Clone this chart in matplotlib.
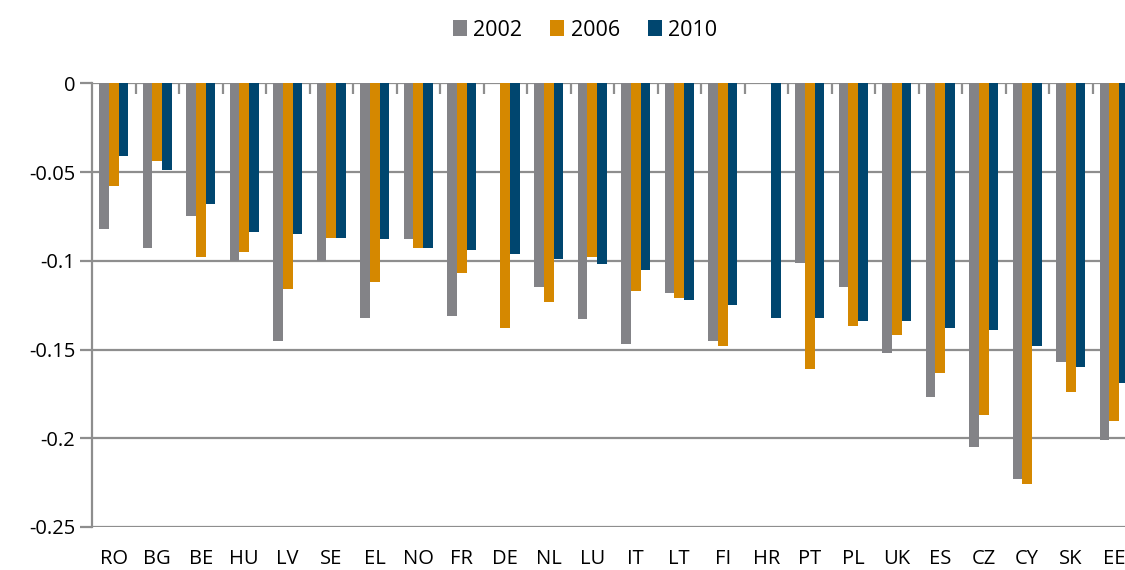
import matplotlib
matplotlib.use('Agg')
import matplotlib.pyplot as plt
import numpy as np

plt.rcParams['font.family'] = ['Open Sans', 'DejaVu Sans']

countries = ['RO', 'BG', 'BE', 'HU', 'LV', 'SE', 'EL', 'NO', 'FR', 'DE', 'NL', 'LU',
             'IT', 'LT', 'FI', 'HR', 'PT', 'PL', 'UK', 'ES', 'CZ', 'CY', 'SK', 'EE']
y2002 = [-0.082, -0.093, -0.075, -0.100, -0.145, -0.100, -0.132, -0.088, -0.131, 0.0,
         -0.115, -0.133, -0.147, -0.118, -0.145, 0.0, -0.101, -0.115, -0.152, -0.177,
         -0.205, -0.223, -0.157, -0.201]
y2006 = [-0.058, -0.044, -0.098, -0.095, -0.116, -0.087, -0.112, -0.093, -0.107, -0.138,
         -0.123, -0.098, -0.117, -0.121, -0.148, 0.0, -0.161, -0.137, -0.142, -0.163,
         -0.187, -0.226, -0.174, -0.190]
y2010 = [-0.041, -0.049, -0.068, -0.084, -0.085, -0.087, -0.088, -0.093, -0.094, -0.096,
         -0.099, -0.102, -0.105, -0.122, -0.125, -0.132, -0.132, -0.134, -0.134, -0.138,
         -0.139, -0.148, -0.160, -0.169]
series_names = ['2002', '2006', '2010']
yticks = [0, -0.05, -0.1, -0.15, -0.2, -0.25]
ytick_labels = ['0', '-0.05', '-0.1', '-0.15', '-0.2', '-0.25']

colors = ['#838387', '#D58800', '#00466F']
grid_col = '#8E8E8E'

W, H = 1125, 570
fig = plt.figure(figsize=(W / 100, H / 100), dpi=100)
# axes runs past the right edge of the figure, like the original clipped chart
ax = fig.add_axes([92 / W, (H - 527) / H, 1044 / W, (527 - 83.3) / H])

x = np.arange(len(countries))
bw = 0.222
for i, (vals, name) in enumerate(zip([y2002, y2006, y2010], series_names)):
    ax.bar(x + (i - 1) * bw, vals, width=bw, color=colors[i], label=name, zorder=2)

ax.set_xlim(-0.5, len(countries) - 0.5)
ax.set_ylim(-0.25, 0)
ax.set_yticks(yticks)
ax.set_yticklabels(ytick_labels)
ax.yaxis.grid(True, color=grid_col, lw=1.6)
ax.set_axisbelow(True)

ax.set_xticks(x)
ax.set_xticklabels(countries)
ax.set_xticks(np.arange(0.5, len(countries), 1), minor=True)
ax.tick_params(axis='x', which='major', length=0, pad=16, labelsize=14.5)
ax.tick_params(axis='x', which='minor', bottom=False, top=True, direction='in',
               length=8, width=1.6, color=grid_col)
ax.tick_params(axis='y', length=9, width=1.6, color=grid_col, labelsize=14.5, pad=3)

for s in ['right', 'bottom', 'top']:
    ax.spines[s].set_visible(False)
ax.spines['left'].set_color(grid_col)
ax.spines['left'].set_linewidth(1.6)

fig.legend(loc='center', bbox_to_anchor=(585 / W, 1 - 30 / H), ncol=3, frameon=False,
           fontsize=15.5, handlelength=0.65, handleheight=0.7, handletextpad=0.3,
           columnspacing=1.3)

fig.savefig('out.png', dpi=100)
